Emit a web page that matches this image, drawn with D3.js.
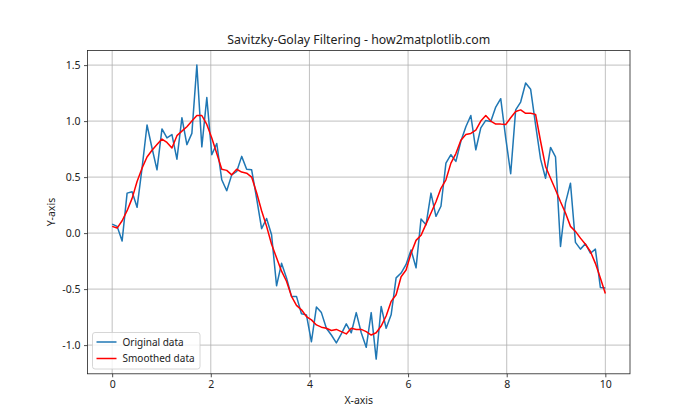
<!DOCTYPE html>
<html>
<head>
<meta charset="utf-8">
<script src="https://cdn.jsdelivr.net/npm/d3@7"></script>
<style>
  body { margin: 0; background: #fff; }
  text { font-family: "Noto Sans", "DejaVu Sans", sans-serif; fill: #222; }
</style>
</head>
<body>
<svg id="chart"></svg>
<script>
// x positions: 100 samples from 0 to 10
const xValues = d3.range(100).map(i => i * 10 / 99);

// noisy sine
const original = [
  0.08, 0.06, -0.07, 0.357, 0.37, 0.23, 0.58, 0.965, 0.76, 0.565,
  0.93, 0.85, 0.88, 0.66, 1.03, 0.79, 0.89, 1.50, 0.77, 1.21,
  0.70, 0.80, 0.476, 0.378, 0.52, 0.55, 0.685, 0.57, 0.565, 0.31,
  0.04, 0.13, -0.015, -0.47, -0.27, -0.40, -0.565, -0.565, -0.72, -0.73,
  -0.97, -0.66, -0.71, -0.85, -0.91, -0.98, -0.90, -0.81, -0.89, -0.71,
  -0.89, -1.02, -0.71, -1.125, -0.655, -0.85, -0.73, -0.40, -0.357, -0.28,
  -0.15, -0.31, 0.125, 0.074, 0.357, 0.15, 0.24, 0.625, 0.70, 0.64,
  0.82, 0.95, 1.05, 0.744, 0.94, 1.006, 0.997, 1.125, 1.20, 0.85,
  0.53, 1.10, 1.17, 1.34, 1.285, 0.967, 0.66, 0.49, 0.765, 0.68,
  -0.12, 0.27, 0.446, -0.083, -0.143, -0.095, -0.18, -0.143, -0.485, -0.49
];

// Savitzky-Golay output
const smoothed = [
  0.06, 0.045, 0.11, 0.20, 0.31, 0.46, 0.58, 0.68, 0.74, 0.79,
  0.84, 0.81, 0.76, 0.87, 0.91, 0.95, 1.0, 1.05, 1.05, 0.97,
  0.85, 0.71, 0.57, 0.56, 0.52, 0.57, 0.545, 0.535, 0.50, 0.36,
  0.2, 0.06, -0.10, -0.22, -0.34, -0.43, -0.565, -0.645, -0.685, -0.745,
  -0.775, -0.82, -0.84, -0.85, -0.87, -0.86, -0.88, -0.90, -0.85, -0.86,
  -0.86, -0.88, -0.91, -0.89, -0.83, -0.74, -0.61, -0.55, -0.39, -0.33,
  -0.18, -0.065, -0.02, 0.08, 0.18, 0.28, 0.40, 0.476, 0.625, 0.71,
  0.83, 0.88, 0.89, 0.92, 1.0, 1.05, 1.0, 0.973, 0.973, 0.97,
  1.03, 1.086, 1.10, 1.07, 1.07, 1.06, 0.82, 0.595, 0.49, 0.387,
  0.28, 0.18, 0.06, 0.015, -0.045, -0.10, -0.164, -0.27, -0.40, -0.54
];

const xTicks = [0, 2, 4, 6, 8, 10];
const yTicks = [-1.0, -0.5, 0.0, 0.5, 1.0, 1.5];

const width = 700;
const height = 420;
const margin = { top: 50.4, right: 70, bottom: 46.2, left: 87.5 };

const svg = d3.select("#chart")
  .attr("width", width)
  .attr("height", height);

// matplotlib-style 5% padding
const xExt = d3.extent(xValues);
const xPad = (xExt[1] - xExt[0]) * 0.05;
const xScale = d3.scaleLinear()
  .domain([xExt[0] - xPad, xExt[1] + xPad])
  .range([margin.left, width - margin.right]);

const yExt = d3.extent(original.concat(smoothed));
const yPad = (yExt[1] - yExt[0]) * 0.05;
const yScale = d3.scaleLinear()
  .domain([yExt[0] - yPad, yExt[1] + yPad])
  .range([height - margin.bottom, margin.top]);

// grid
svg.append("g")
  .selectAll("line.vg")
  .data(xTicks)
  .join("line")
  .attr("x1", d => xScale(d)).attr("x2", d => xScale(d))
  .attr("y1", margin.top).attr("y2", height - margin.bottom)
  .attr("stroke", "#b0b0b0").attr("stroke-width", 0.8);

svg.append("g")
  .selectAll("line.hg")
  .data(yTicks)
  .join("line")
  .attr("x1", margin.left).attr("x2", width - margin.right)
  .attr("y1", d => yScale(d)).attr("y2", d => yScale(d))
  .attr("stroke", "#b0b0b0").attr("stroke-width", 0.8);

// lines
const line = (vals) => d3.line()
  .x((d, i) => xScale(xValues[i]))
  .y(d => yScale(d))(vals);

svg.append("path")
  .attr("d", line(original))
  .attr("fill", "none")
  .attr("stroke", "#1f77b4")
  .attr("stroke-width", 1.5)
  .attr("stroke-linejoin", "round");

svg.append("path")
  .attr("d", line(smoothed))
  .attr("fill", "none")
  .attr("stroke", "red")
  .attr("stroke-width", 1.5)
  .attr("stroke-linejoin", "round");

// axes
const xAxis = svg.append("g")
  .attr("transform", `translate(0,${height - margin.bottom})`)
  .call(d3.axisBottom(xScale).tickValues(xTicks).tickSize(3.5).tickPadding(3.5).tickFormat(d3.format("d")));

const yAxis = svg.append("g")
  .attr("transform", `translate(${margin.left},0)`)
  .call(d3.axisLeft(yScale).tickValues(yTicks).tickSize(3.5).tickPadding(3.5).tickFormat(d => d3.format(".1f")(d).replace("−", "-")));

[xAxis, yAxis].forEach(ax => {
  ax.select(".domain").remove();
  ax.selectAll(".tick line").attr("stroke", "#222").attr("stroke-width", 0.8);
  ax.selectAll(".tick text").attr("font-size", 10.5).attr("fill", "#222")
    .style("font-family", '"Noto Sans", "DejaVu Sans", sans-serif');
});

// frame
svg.append("rect")
  .attr("x", margin.left).attr("y", margin.top)
  .attr("width", width - margin.right - margin.left)
  .attr("height", height - margin.bottom - margin.top)
  .attr("fill", "none").attr("stroke", "#222").attr("stroke-width", 0.8);

// title and labels
svg.append("text")
  .attr("x", (margin.left + width - margin.right) / 2)
  .attr("y", margin.top - 6)
  .attr("text-anchor", "middle")
  .attr("font-size", 12.3)
  .text("Savitzky-Golay Filtering - how2matplotlib.com");

svg.append("text")
  .attr("x", (margin.left + width - margin.right) / 2)
  .attr("y", 404)
  .attr("text-anchor", "middle")
  .attr("font-size", 10.5)
  .text("X-axis");

svg.append("text")
  .attr("transform", `translate(55,${(margin.top + height - margin.bottom) / 2}) rotate(-90)`)
  .attr("text-anchor", "middle")
  .attr("font-size", 10.5)
  .text("Y-axis");

// legend
const legend = svg.append("g").attr("transform", "translate(92.5,332.5)");
legend.append("rect")
  .attr("width", 107.5).attr("height", 36.5)
  .attr("rx", 2.5)
  .attr("fill", "white").attr("fill-opacity", 0.8)
  .attr("stroke", "#cccccc").attr("stroke-width", 0.8);

const entries = [
  { label: "Original data", color: "#1f77b4" },
  { label: "Smoothed data", color: "red" }
];
entries.forEach((e, i) => {
  const y = 9.5 + i * 16.5;
  legend.append("line")
    .attr("x1", 4).attr("x2", 24)
    .attr("y1", y).attr("y2", y)
    .attr("stroke", e.color).attr("stroke-width", 1.5);
  legend.append("text")
    .attr("x", 30).attr("y", y + 3.6)
    .attr("font-size", 10)
    .text(e.label);
});
</script>
</body>
</html>
